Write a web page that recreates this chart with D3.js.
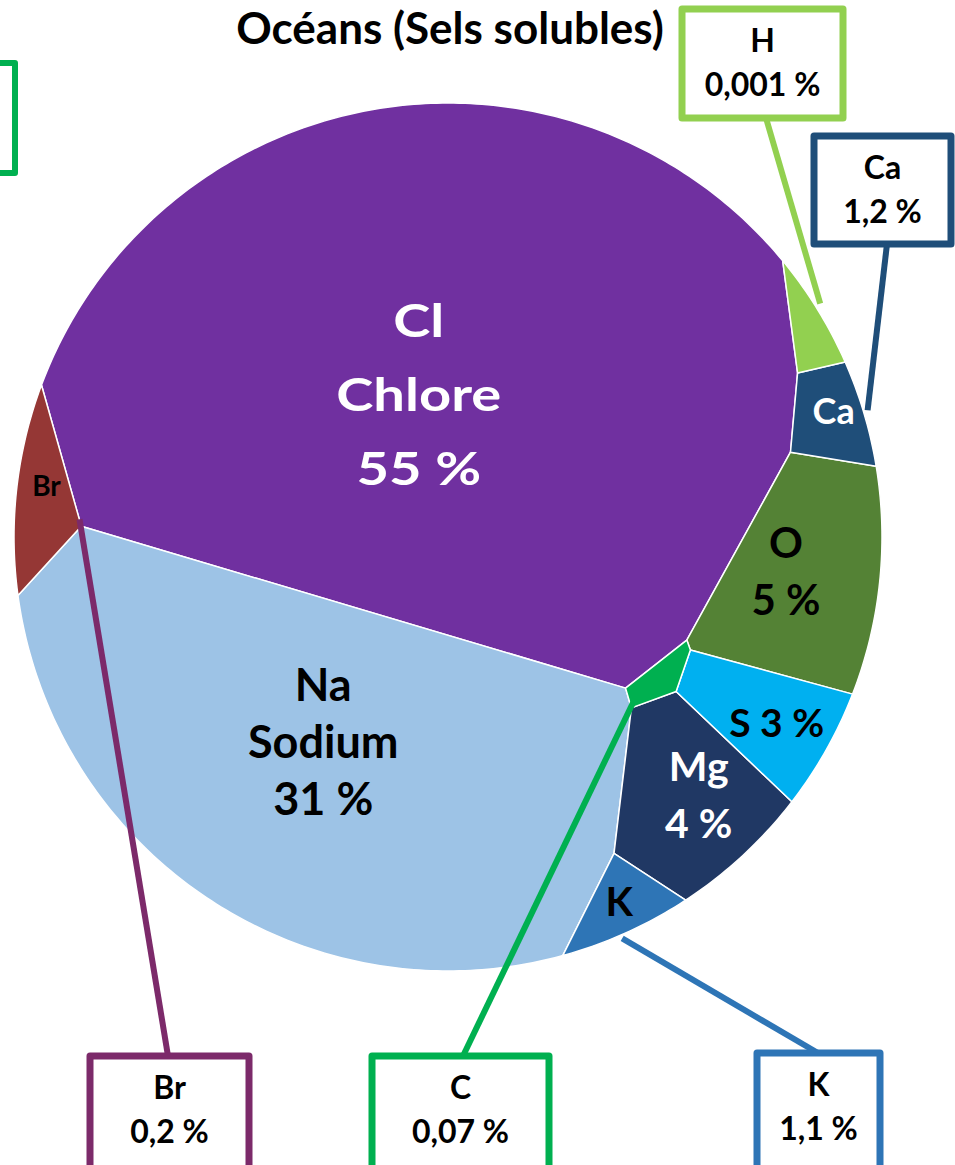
<!DOCTYPE html>
<html>
<head>
<meta charset="utf-8">
<script src="https://cdn.jsdelivr.net/npm/d3@7"></script>
<style>
  html, body { margin: 0; padding: 0; background: #fff; }
  svg { display: block; font-family: Lato, "Open Sans", sans-serif; font-weight: 700; }
</style>
</head>
<body>
<script>
// ---- data ----
var symbols   = ['Cl', 'Na', 'O', 'Mg', 'S', 'Ca', 'K', 'Br', 'C', 'H'];
var names     = ['Chlore', 'Sodium', '', '', '', '', '', '', '', ''];
var percents  = [55, 31, 5, 4, 3, 1.2, 1.1, 0.2, 0.07, 0.001];
// share of the disc given to each cell (%) (tiny ones are enlarged)
var cellShares = [54.1, 30.3, 5.3, 3.8, 2.3, 1.07, 0.9, 1.3, 0.33, 0.52];
var colors    = ['#7030a0', '#9dc3e6', '#548235', '#203864', '#00b0f0', '#1f4e79', '#2e75b6', '#953735', '#00b050', '#92d050'];
var title     = 'Océans (Sels solubles)';

// ---- layout ----
var W = 955, H = 1165, cx = 448, cy = 537, R = 434;
// power diagram sites, in unit disc coordinates
var sites = {
  Cl: [-0.041, -0.477], Na: [-0.288, 0.353], O: [0.823, 0.0], Mg: [0.558, 0.454], S: [0.756, 0.246],
  Ca: [0.887, -0.394], K: [0.399, 0.698], Br: [-0.924, -0.228], C: [0.442, 0.138], H: [0.841, -0.594]
};
// labels inside the cells: offset from the cell centroid
var inner = {
  Cl: { parts: ['symbol', 'name', 'pct'], size: 46, lh: 74, color: '#fff', sx: 1.22, dx: -24, dy: 13 },
  Na: { parts: ['symbol', 'name', 'pct'], size: 45, lh: 57, color: '#000', dx: -8, dy: -17 },
  O:  { parts: ['symbol', 'pct'], size: 42, lh: 57, color: '#000', dx: -17, dy: -6 },
  Mg: { parts: ['symbol', 'pct'], size: 41, lh: 57, color: '#fff', dx: 10, dy: -4 },
  S:  { parts: ['inline'], size: 39, color: '#000', dx: 11, dy: 7 },
  Ca: { parts: ['symbol'], size: 36, color: '#fff', dx: 3, dy: -6 },
  K:  { parts: ['symbol'], size: 40, color: '#000', dx: -2, dy: -4 },
  Br: { parts: ['symbol'], size: 28, color: '#000', dx: 5, dy: -13 }
};
// callout boxes [x, y, w, h] and leader tip offset from the cell centroid
var callouts = {
  H:  { box: [682, 9, 161, 109],  color: '#92d050', from: [766, 118],  tip: [11, -26] },
  Ca: { box: [814, 136, 137, 108], color: '#1f4e79', from: [887, 244],  tip: [37, -7] },
  Br: { box: [90, 1056, 159, 130], color: '#7c2a6a', from: [168, 1056], tip: [38, 20] },
  C:  { box: [372, 1056, 177, 130], color: '#00b050', from: [463, 1056], tip: [-25, 21] },
  K:  { box: [757, 1053, 123, 130], color: '#2e75b6', from: [818, 1053], tip: [1, 33] }
};

var fr = d3.formatLocale({ decimal: ',', thousands: '\u00a0', grouping: [3], currency: ['', ' €'] });
var fmt = fr.format('~g');
function pctText(i) { return fmt(percents[i]) + ' %'; }

var x = d3.scaleLinear().domain([-1, 1]).range([cx - R, cx + R]);
var y = d3.scaleLinear().domain([-1, 1]).range([cy - R, cy + R]);

// disc as a polygon
var disc = d3.range(480).map(function(k) {
  var a = 2 * Math.PI * k / 480;
  return [cx + R * Math.cos(a), cy + R * Math.sin(a)];
});

// keep the part of poly where a*x + b*y <= c
function clipHalf(poly, a, b, c) {
  var out = [];
  for (var k = 0; k < poly.length; k++) {
    var p = poly[k], q = poly[(k + 1) % poly.length];
    var fp = a * p[0] + b * p[1] - c, fq = a * q[0] + b * q[1] - c;
    if (fp <= 0) out.push(p);
    if ((fp <= 0) !== (fq <= 0)) {
      var t = fp / (fp - fq);
      out.push([p[0] + t * (q[0] - p[0]), p[1] + t * (q[1] - p[1])]);
    }
  }
  return out;
}

function powerCells(pts, w) {
  return pts.map(function(si, i) {
    var poly = disc, grad = 0;
    pts.forEach(function(sj, j) {
      if (j === i || poly.length < 3) return;
      var a = 2 * (sj[0] - si[0]), b = 2 * (sj[1] - si[1]);
      var c = sj[0] * sj[0] + sj[1] * sj[1] - si[0] * si[0] - si[1] * si[1] + w[i] - w[j];
      poly = clipHalf(poly, a, b, c);
    });
    // d(area)/d(weight): sum of shared edge length / |a,b|
    pts.forEach(function(sj, j) {
      if (j === i || poly.length < 3) return;
      var a = 2 * (sj[0] - si[0]), b = 2 * (sj[1] - si[1]);
      var c = sj[0] * sj[0] + sj[1] * sj[1] - si[0] * si[0] - si[1] * si[1] + w[i] - w[j];
      var n = Math.sqrt(a * a + b * b), len = 0;
      for (var k = 0; k < poly.length; k++) {
        var p = poly[k], q = poly[(k + 1) % poly.length];
        if (Math.abs(a * p[0] + b * p[1] - c) < 1e-3 * n && Math.abs(a * q[0] + b * q[1] - c) < 1e-3 * n)
          len += Math.hypot(q[0] - p[0], q[1] - p[1]);
      }
      grad += len / n;
    });
    return { poly: poly, area: poly.length > 2 ? Math.abs(d3.polygonArea(poly)) : 0, grad: grad };
  });
}

var pts = symbols.map(function(s) { return [x(sites[s][0]), y(sites[s][1])]; });
var total = d3.sum(cellShares), discArea = Math.abs(d3.polygonArea(disc));
var target = cellShares.map(function(v) { return v / total * discArea; });
var w = pts.map(function() { return 0; });
var cells;
for (var it = 0; it < 400; it++) {
  cells = powerCells(pts, w);
  cells.forEach(function(c, i) { w[i] += 0.6 * (target[i] - c.area) / (c.grad > 0 ? c.grad : 0.5); });
}
cells = powerCells(pts, w);

var svg = d3.select('body').append('svg').attr('width', W).attr('height', H);

svg.append('g').selectAll('path')
  .data(cells)
  .enter()
  .append('path')
  .attr('d', function(c) { return 'M' + c.poly.join('L') + 'Z'; })
  .attr('fill', function(d, i) { return colors[i]; })
  .attr('stroke', '#fff')
  .attr('stroke-width', 1.5)
  .attr('stroke-linejoin', 'round');

var centroids = cells.map(function(c) { return d3.polygonCentroid(c.poly); });

// labels inside the cells
symbols.forEach(function(s, i) {
  var L = inner[s];
  if (!L) return;
  var lines = L.parts.map(function(p) {
    if (p === 'symbol') return s;
    if (p === 'name') return names[i];
    if (p === 'pct') return pctText(i);
    return s + ' ' + pctText(i);
  });
  var g = svg.append('g')
    .attr('transform', 'translate(' + (centroids[i][0] + L.dx) + ',' + (centroids[i][1] + L.dy) + ') scale(' + (L.sx || 1) + ',1)');
  g.selectAll('text')
    .data(lines)
    .enter()
    .append('text')
    .attr('text-anchor', 'middle')
    .attr('y', function(d, k) { return (k - (lines.length - 1) / 2) * (L.lh || 0); })
    .attr('dy', '0.36em')
    .attr('font-size', L.size)
    .attr('fill', L.color)
    .text(function(d) { return d; });
});

// partial box at the top-left edge
svg.append('rect')
  .attr('x', -60).attr('y', 63).attr('width', 75).attr('height', 110)
  .attr('fill', 'none').attr('stroke', '#00b050').attr('stroke-width', 6).attr('stroke-linejoin', 'round');

// callouts
symbols.forEach(function(s, i) {
  var c = callouts[s];
  if (!c) return;
  svg.append('line')
    .attr('x1', c.from[0]).attr('y1', c.from[1])
    .attr('x2', centroids[i][0] + c.tip[0]).attr('y2', centroids[i][1] + c.tip[1])
    .attr('stroke', c.color).attr('stroke-width', 6);
  svg.append('rect')
    .attr('x', c.box[0]).attr('y', c.box[1]).attr('width', c.box[2]).attr('height', c.box[3])
    .attr('fill', '#fff').attr('stroke', c.color).attr('stroke-width', 7).attr('stroke-linejoin', 'round');
  var tx = c.box[0] + c.box[2] / 2;
  svg.append('text').attr('x', tx).attr('y', c.box[1] + 43).attr('text-anchor', 'middle')
    .attr('font-size', 32).text(s);
  svg.append('text').attr('x', tx).attr('y', c.box[1] + 87).attr('text-anchor', 'middle')
    .attr('font-size', 32).text(pctText(i));
});

svg.append('text')
  .attr('x', 450).attr('y', 44)
  .attr('text-anchor', 'middle')
  .attr('font-size', 44)
  .text(title);
</script>
</body>
</html>
